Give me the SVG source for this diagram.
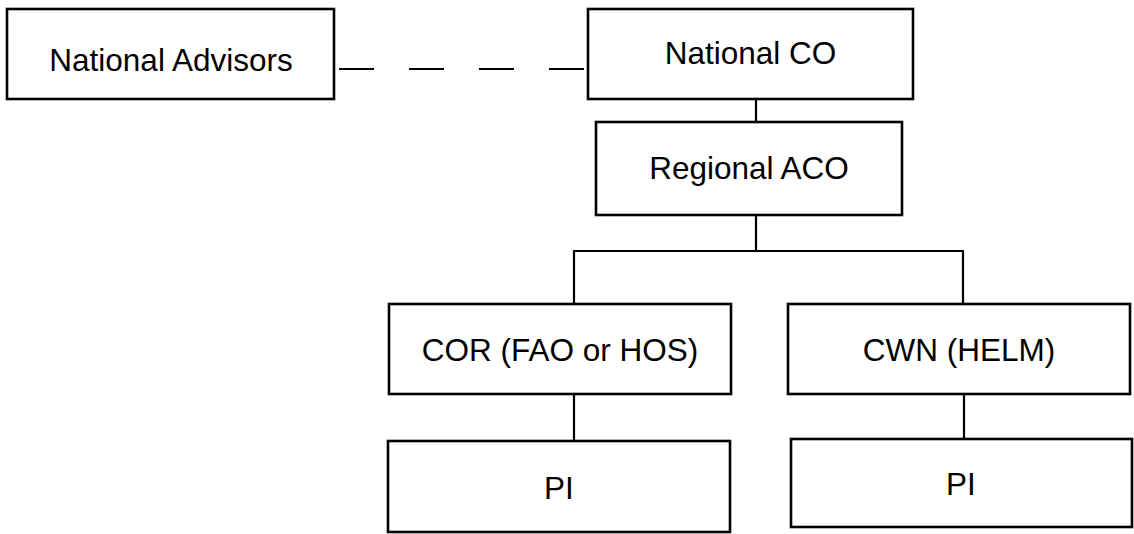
<svg xmlns="http://www.w3.org/2000/svg" width="1134" height="534" viewBox="0 0 1134 534">
<style>
.box{fill:#fff;stroke:#000;stroke-width:2.6}
.lbl{font-family:"Liberation Sans",Arial,sans-serif;font-size:31.5px;fill:#000;text-anchor:middle}
.conn{fill:none;stroke:#000;stroke-width:2.2}
.dash{stroke-dasharray:35 35}
</style>
<rect width="1134" height="534" fill="#fff"/>
<g id="connectors">
<line class="conn dash" x1="339" y1="69" x2="586" y2="69"/>
<line class="conn" x1="756" y1="99" x2="756" y2="122"/>
<polyline class="conn" points="756,215 756,251"/>
<polyline class="conn" points="574,304 574,251 963,251 963,304"/>
<line class="conn" x1="574" y1="394" x2="574" y2="441"/>
<line class="conn" x1="964" y1="394" x2="964" y2="439"/>
</g>
<g id="national-advisors">
<rect class="box" x="7" y="9" width="327" height="90"/>
<text class="lbl" x="171" y="71">National Advisors</text>
</g>
<g id="national-co">
<rect class="box" x="588" y="9" width="325" height="90"/>
<text class="lbl" x="750.5" y="64">National CO</text>
</g>
<g id="regional-aco">
<rect class="box" x="596" y="122" width="306" height="93"/>
<text class="lbl" x="749" y="179">Regional ACO</text>
</g>
<g id="cor">
<rect class="box" x="389" y="304" width="342" height="90"/>
<text class="lbl" x="560" y="361">COR (FAO or HOS)</text>
</g>
<g id="cwn">
<rect class="box" x="788" y="304" width="342" height="90"/>
<text class="lbl" x="959" y="361">CWN (HELM)</text>
</g>
<g id="pi-left">
<rect class="box" x="388" y="441" width="342" height="91"/>
<text class="lbl" x="559" y="499">PI</text>
</g>
<g id="pi-right">
<rect class="box" x="791" y="439" width="341" height="88"/>
<text class="lbl" x="961" y="495">PI</text>
</g>
</svg>
